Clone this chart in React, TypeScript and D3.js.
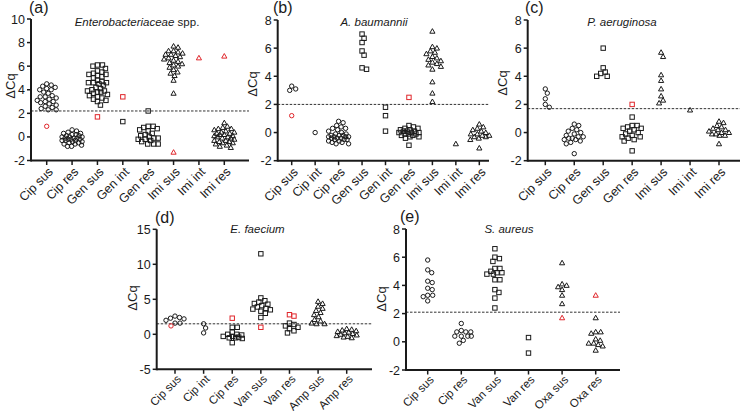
import React from "react";
import * as d3 from "d3";

// ---------- DATA ----------
const aCategories = ["Cip sus", "Cip res", "Gen sus", "Gen int", "Gen res", "Imi sus", "Imi int", "Imi res"];
const aShapes = ["circle", "circle", "square", "square", "square", "triangle", "triangle", "triangle"];
const aValues: number[][] = [
  [4.5, 4.4, 4.3, 4.2, 4.1, 4.0, 4.0, 3.8, 3.7, 3.5, 3.4, 3.4, 3.3, 3.2, 3.1, 3.0, 3.0, 2.9, 2.8, 2.7, 2.6, 2.5, 2.4, 2.3, 2.3],
  [0.6, 0.5, 0.4, 0.3, 0.3, 0.2, 0.2, 0.1, 0.1, 0.0, 0.0, 0.0, -0.1, -0.1, -0.1, -0.2, -0.2, -0.2, -0.3, -0.3, -0.3, -0.4, -0.4, -0.5, -0.5, -0.6, -0.6, -0.7, -0.8, -0.8],
  [6.1, 6.1, 6.0, 5.8, 5.6, 5.5, 5.4, 5.3, 5.3, 5.2, 5.1, 5.0, 4.8, 4.7, 4.6, 4.6, 4.6, 4.5, 4.4, 4.2, 4.1, 4.0, 3.9, 3.9, 3.8, 3.8, 3.7, 3.6, 3.5, 3.4, 3.3, 3.2, 3.1, 3.0, 2.7],
  [1.3],
  [2.2, 0.9, 0.9, 0.8, 0.7, 0.6, 0.5, 0.3, 0.2, 0.1, 0.0, -0.1, -0.1, -0.2, -0.2, -0.3, -0.4, -0.6, -0.6, -0.6],
  [7.7, 7.6, 7.3, 7.3, 7.2, 7.1, 7.0, 7.0, 6.9, 6.8, 6.7, 6.6, 6.5, 6.4, 6.3, 6.2, 6.1, 6.0, 5.9, 5.7, 5.5, 5.4, 5.2, 4.8, 3.7],
  [],
  [1.2, 0.9, 0.8, 0.7, 0.7, 0.6, 0.5, 0.4, 0.4, 0.3, 0.3, 0.2, 0.2, 0.1, 0.1, 0.0, 0.0, -0.1, -0.1, -0.2, -0.3, -0.3, -0.4, -0.4, -0.5, -0.5, -0.6, -0.7, -0.8, -0.9],
];
const aOutliers: number[][] = [[0.9], [], [1.7], [3.4], [], [-1.3], [6.7], [6.85]];
const aTicks = [-2, 0, 2, 4, 6, 8, 10];
const aCutoff = 2.2;

const bCategories = ["Cip sus", "Cip int", "Cip res", "Gen sus", "Gen int", "Gen res", "Imi sus", "Imi int", "Imi res"];
const bShapes = ["circle", "circle", "circle", "square", "square", "square", "triangle", "triangle", "triangle"];
const bValues: number[][] = [
  [3.3, 3.1, 3.0],
  [0.0],
  [0.8, 0.7, 0.5, 0.4, 0.3, 0.3, 0.2, 0.1, 0.0, -0.1, -0.1, -0.2, -0.2, -0.2, -0.3, -0.3, -0.3, -0.3, -0.4, -0.4, -0.4, -0.5, -0.5, -0.5, -0.6, -0.6, -0.7, -0.7, -0.8, -0.8],
  [7.0, 6.7, 6.4, 5.8, 5.5, 4.6, 4.5],
  [1.8, 1.2, 0.1],
  [0.5, 0.4, 0.3, 0.3, 0.2, 0.2, 0.1, 0.1, 0.1, 0.0, 0.0, 0.0, -0.1, -0.1, -0.1, -0.2, -0.2, -0.3, -0.3, -0.4, -0.9],
  [7.2, 6.1, 6.0, 5.8, 5.7, 5.6, 5.4, 5.3, 5.2, 5.1, 5.0, 4.9, 4.8, 4.7, 4.5, 3.6, 2.8, 2.2],
  [-0.8],
  [0.6, 0.4, 0.3, 0.2, 0.1, 0.0, -0.1, -0.1, -0.2, -0.2, -0.3, -0.3, -0.4, -0.5, -1.1],
];
const bOutliers: number[][] = [[1.2], [], [], [], [], [2.5], [], [], []];
const bTicks = [-2, 0, 2, 4, 6, 8];
const bCutoff = 2.0;

const cCategories = ["Cip sus", "Cip res", "Gen sus", "Gen res", "Imi sus", "Imi int", "Imi res"];
const cShapes = ["circle", "circle", "square", "square", "triangle", "triangle", "triangle"];
const cValues: number[][] = [
  [3.1, 2.8, 2.4, 2.0, 1.8],
  [0.6, 0.5, 0.3, 0.2, 0.1, 0.0, -0.1, -0.2, -0.3, -0.3, -0.4, -0.4, -0.5, -0.5, -0.6, -0.7, -0.8, -1.5],
  [6.0, 4.6, 4.3, 4.2, 4.0, 4.0],
  [1.1, 0.5, 0.5, 0.4, 0.3, 0.3, 0.2, 0.1, 0.0, -0.1, -0.2, -0.3, -0.3, -0.4, -0.5, -0.6, -1.3],
  [5.7, 5.4, 4.1, 3.7, 3.1, 2.6, 2.3, 2.1],
  [1.6],
  [0.8, 0.7, 0.5, 0.4, 0.3, 0.2, 0.2, 0.1, 0.0, 0.0, -0.1, -0.1, -0.2, -0.2, -0.8],
];
const cOutliers: number[][] = [[], [], [], [2.0], [], [], []];
const cTicks = [-2, 0, 2, 4, 6, 8];
const cCutoff = 1.7;

const dCategories = ["Cip sus", "Cip int", "Cip res", "Van sus", "Van res", "Amp sus", "Amp res"];
const dShapes = ["circle", "circle", "square", "square", "square", "triangle", "triangle"];
const dValues: number[][] = [
  [2.6, 2.4, 2.3, 2.2, 2.0, 1.6, 1.6],
  [1.5, 0.9, 0.2],
  [1.0, 1.0, 0.3, 0.0, 0.0, -0.1, -0.3, -0.3, -0.4, -0.5, -0.5, -0.6, -1.2],
  [11.5, 5.2, 4.8, 4.6, 4.4, 4.3, 4.1, 3.9, 3.7, 3.6, 3.5, 3.3, 3.0, 2.4],
  [1.6, 1.4, 1.2, 1.0, 0.8, 0.5, 0.2],
  [4.7, 4.4, 4.0, 3.7, 3.4, 3.1, 2.8, 2.5, 2.1, 1.9, 1.6, 1.5, 1.5],
  [0.8, 0.7, 0.6, 0.5, 0.4, 0.3, 0.2, 0.1, 0.0, -0.1, -0.2, -0.3, -0.4, -0.5],
];
const dOutliers: number[][] = [[1.2], [], [2.3], [1.0], [2.8, 2.6], [], []];
const dTicks = [-5, 0, 5, 10, 15];
const dCutoff = 1.5;

const eCategories = ["Cip sus", "Cip res", "Van sus", "Van res", "Oxa sus", "Oxa res"];
const eShapes = ["circle", "circle", "square", "square", "triangle", "triangle"];
const eValues: number[][] = [
  [5.8, 5.1, 4.9, 4.3, 4.2, 3.8, 3.7, 3.3, 3.3, 3.2, 2.9],
  [1.3, 0.8, 0.7, 0.7, 0.7, 0.4, 0.4, 0.4, 0.4, 0.1, -0.1],
  [6.6, 6.0, 5.9, 5.7, 5.2, 5.2, 5.0, 4.9, 4.9, 4.8, 4.8, 4.4, 4.4, 3.7, 3.5, 3.1, 2.4],
  [0.3, -0.8],
  [5.6, 4.1, 4.0, 3.9, 3.7, 3.3, 2.7],
  [1.7, 0.7, 0.7, 0.6, 0.2, 0.1, -0.1, -0.1, -0.2, -0.3, -0.6],
];
const eOutliers: number[][] = [[], [], [], [], [1.7], [3.3]];
const eTicks = [-2, 0, 2, 4, 6, 8];
const eCutoff = 2.1;

// ---------- LAYOUT ----------
const FONT = "'Liberation Sans', Arial, Helvetica, sans-serif";
const RED = "#e0262b";
const BLACK = "#1a1a1a";

type Panel = {
  label: string; titleItalic: string; titleNormal: string;
  categories: string[]; shapes: string[]; values: number[][]; outliers: number[][];
  ticks: number[]; cutoff: number;
  axisX: number; x0: number; x1: number; axisEnd: number;
  yTop: number; yBot: number; xFont: number; xLabOff: number;
  labelX: number; labelY: number; titleX: number; titleY: number; ylabX: number; ylabY: number;
};

const panels: Panel[] = [
  { label: "(a)", titleItalic: "Enterobacteriaceae", titleNormal: " spp.", categories: aCategories, shapes: aShapes, values: aValues, outliers: aOutliers, ticks: aTicks, cutoff: aCutoff,
    axisX: 31, x0: 46.7, x1: 224.3, axisEnd: 249, yTop: 19, yBot: 160.5, xFont: 12.5, xLabOff: 9, labelX: 29, labelY: 13, titleX: 137, titleY: 26, ylabX: 15, ylabY: 86 },
  { label: "(b)", titleItalic: "A. baumannii", titleNormal: "", categories: bCategories, shapes: bShapes, values: bValues, outliers: bOutliers, ticks: bTicks, cutoff: bCutoff,
    axisX: 277.7, x0: 291.7, x1: 479.3, axisEnd: 489, yTop: 20, yBot: 160.7, xFont: 12.5, xLabOff: 9, labelX: 273, labelY: 13, titleX: 374, titleY: 26, ylabX: 257, ylabY: 84 },
  { label: "(c)", titleItalic: "P. aeruginosa", titleNormal: "", categories: cCategories, shapes: cShapes, values: cValues, outliers: cOutliers, ticks: cTicks, cutoff: cCutoff,
    axisX: 527.7, x0: 545.3, x1: 719, axisEnd: 740, yTop: 20, yBot: 160.7, xFont: 12.5, xLabOff: 9, labelX: 525, labelY: 13, titleX: 622, titleY: 26, ylabX: 507, ylabY: 83 },
  { label: "(d)", titleItalic: "E. faecium", titleNormal: "", categories: dCategories, shapes: dShapes, values: dValues, outliers: dOutliers, ticks: dTicks, cutoff: dCutoff,
    axisX: 156.7, x0: 175, x1: 346.7, axisEnd: 372, yTop: 229.3, yBot: 369.3, xFont: 11.5, xLabOff: 7.5, labelX: 155, labelY: 223, titleX: 257.5, titleY: 233, ylabX: 137, ylabY: 298 },
  { label: "(e)", titleItalic: "S. aureus", titleNormal: "", categories: eCategories, shapes: eShapes, values: eValues, outliers: eOutliers, ticks: eTicks, cutoff: eCutoff,
    axisX: 406, x0: 427.7, x1: 595.7, axisEnd: 620, yTop: 229, yBot: 370, xFont: 11.5, xLabOff: 7.5, labelX: 400, labelY: 222, titleX: 509, titleY: 233, ylabX: 386, ylabY: 299 },
];

type Pt = { v: number; red: boolean; py: number; dx: number };

// Simple capped beeswarm: points are spread sideways, overlapping when the column is crowded
function swarm(values: number[], outliers: number[], y: (v: number) => number, D: number, cap: number): Pt[] {
  const pts = [
    ...values.map((v) => ({ v, red: false })),
    ...outliers.map((v) => ({ v, red: true })),
  ].sort((a, b) => b.v - a.v);
  const placed: Pt[] = [];
  for (const p of pts) {
    const py = y(p.v);
    let chosen = 0;
    let bestScore = -1;
    for (let k = 0; k < 1000; k++) {
      const m = Math.ceil(k / 2);
      const off = k === 0 ? 0 : (k % 2 === 1 ? m : -m) * 0.5;
      if (Math.abs(off) > cap) break;
      let minD = Infinity;
      for (const q of placed) {
        const dd = Math.sqrt((q.dx - off) ** 2 + (q.py - py) ** 2);
        if (dd < minD) minD = dd;
      }
      if (minD >= D) { chosen = off; break; }
      if (minD > bestScore) { bestScore = minD; chosen = off; }
    }
    placed.push({ v: p.v, red: p.red, py, dx: chosen });
  }
  return placed;
}

function Marker({ shape, x, y, color }: { shape: string; x: number; y: number; color: string }) {
  const common = { fill: "none", stroke: color, strokeWidth: 1 };
  if (shape === "circle") return <circle cx={x} cy={y} r={2.2} {...common} />;
  if (shape === "square") return <rect x={x - 2.2} y={y - 2.2} width={4.4} height={4.4} {...common} />;
  const s = 2.6;
  return <path d={`M${x},${y - s}L${x + s},${y + s * 0.75}L${x - s},${y + s * 0.75}Z`} {...common} />;
}

function PanelView({ p }: { p: Panel }) {
  const y = d3.scaleLinear().domain([p.ticks[0], p.ticks[p.ticks.length - 1]]).range([p.yBot, p.yTop]);
  const x = d3.scalePoint<string>().domain(p.categories).range([p.x0, p.x1]);
  return (
    <g>
      <text x={p.labelX} y={p.labelY} fontSize={16} fontFamily={FONT} fill={BLACK}>{p.label}</text>
      <text x={p.titleX} y={p.titleY} fontSize={11.5} fontFamily={FONT} textAnchor="middle" fill={BLACK}>
        <tspan fontStyle="italic">{p.titleItalic}</tspan>
        {p.titleNormal ? <tspan>{p.titleNormal}</tspan> : null}
      </text>
      <text transform={`translate(${p.ylabX},${p.ylabY}) rotate(-90)`} fontSize={13} fontFamily={FONT} textAnchor="middle" fill={BLACK}>ΔCq</text>
      <line x1={p.axisX} x2={p.axisEnd} y1={y(p.cutoff)} y2={y(p.cutoff)} stroke="#333" strokeWidth={1} strokeDasharray="2.5,1.5" />
      <line x1={p.axisX} x2={p.axisX} y1={y(p.ticks[0]) + 1} y2={y(p.ticks[p.ticks.length - 1])} stroke={BLACK} strokeWidth={2} />
      {p.ticks.map((t) => (
        <g key={t}>
          <line x1={p.axisX - 4} x2={p.axisX} y1={y(t)} y2={y(t)} stroke={BLACK} strokeWidth={1.5} />
          <text x={p.axisX - 6} y={y(t)} dy="0.36em" fontSize={12.5} fontFamily={FONT} textAnchor="end" fill={BLACK}>{t}</text>
        </g>
      ))}
      <line x1={p.axisX} x2={p.axisEnd} y1={p.yBot} y2={p.yBot} stroke={BLACK} strokeWidth={2} />
      {p.categories.map((c) => (
        <g key={c}>
          <line x1={x(c)!} x2={x(c)!} y1={p.yBot} y2={p.yBot + 4.5} stroke={BLACK} strokeWidth={1.5} />
          <text transform={`translate(${x(c)! + 4},${p.yBot + p.xLabOff}) rotate(-45)`} dy="0.35em" fontSize={p.xFont} fontFamily={FONT} textAnchor="end" fill={BLACK}>{c}</text>
        </g>
      ))}
      {p.categories.map((c, i) => {
        const pts = swarm(p.values[i], p.outliers[i], y, 4.6, 10);
        return (
          <g key={c}>
            {pts.map((pt, j) => (
              <Marker key={j} shape={p.shapes[i]} x={x(c)! + pt.dx} y={pt.py} color={pt.red ? RED : BLACK} />
            ))}
          </g>
        );
      })}
    </g>
  );
}

export default function App() {
  return (
    <svg width={740} height={411} style={{ position: "absolute", left: 0, top: 0, background: "#fff" }}>
      <rect width={740} height={411} fill="#fff" />
      {panels.map((p) => <PanelView key={p.label} p={p} />)}
    </svg>
  );
}
